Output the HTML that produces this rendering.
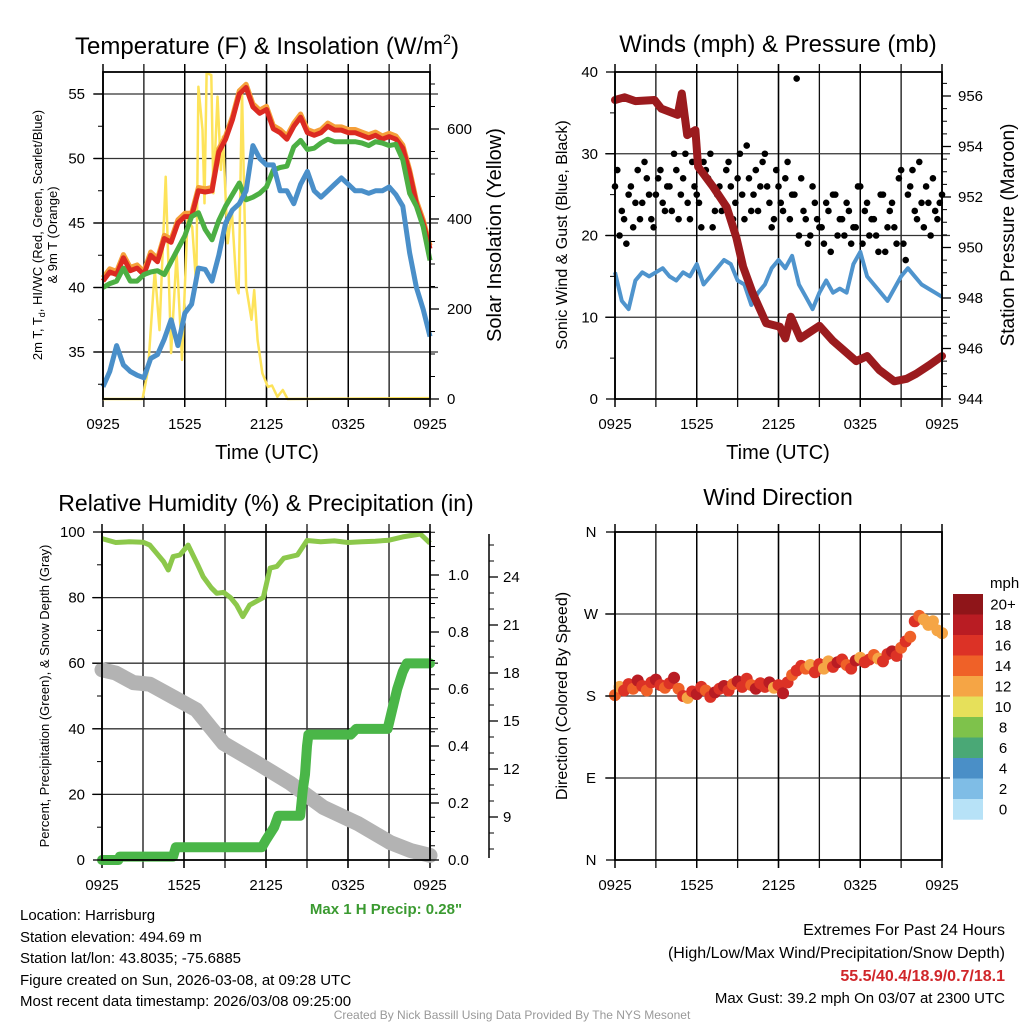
<!DOCTYPE html>
<html><head><meta charset="utf-8">
<style>
html,body{margin:0;padding:0;background:#fff;}
svg{display:block;font-family:"Liberation Sans",sans-serif;}
</style></head>
<body>
<svg id="root" width="1024" height="1024" viewBox="0 0 1024 1024" xmlns="http://www.w3.org/2000/svg">
<rect width="1024" height="1024" fill="#fff"/>
<text x="267" y="54" font-size="24" text-anchor="middle">Temperature (F) &amp; Insolation (W/m<tspan font-size="14" dy="-10">2</tspan><tspan dy="10">)</tspan></text>
<text x="778" y="52" font-size="24" text-anchor="middle">Winds (mph) &amp; Pressure (mb)</text>
<text x="266" y="511" font-size="23" text-anchor="middle">Relative Humidity (%) &amp; Precipitation (in)</text>
<text x="778" y="505" font-size="23" text-anchor="middle">Wind Direction</text>
<text x="267" y="459" font-size="20" text-anchor="middle">Time (UTC)</text>
<text x="778" y="459" font-size="20" text-anchor="middle">Time (UTC)</text>
<text transform="translate(42,235) rotate(-90)" font-size="13" text-anchor="middle">2m T, T<tspan font-size="9" dy="3">d</tspan><tspan dy="-3">, HI/WC (Red, Green, Scarlet/Blue)</tspan></text>
<text transform="translate(57,235) rotate(-90)" font-size="13" text-anchor="middle">&amp; 9m T (Orange)</text>
<text transform="translate(501,235) rotate(-90)" font-size="20" text-anchor="middle">Solar Insolation (Yellow)</text>
<text transform="translate(567,235) rotate(-90)" font-size="16" text-anchor="middle">Sonic Wind &amp; Gust (Blue, Black)</text>
<text transform="translate(1014,235) rotate(-90)" font-size="19" text-anchor="middle">Station Pressure (Maroon)</text>
<text transform="translate(49,696) rotate(-90)" font-size="13" text-anchor="middle">Percent, Precipitation (Green), &amp; Snow Depth (Gray)</text>
<text transform="translate(567,696) rotate(-90)" font-size="16" text-anchor="middle">Direction (Colored By Speed)</text>
<g font-size="15">
<text x="20" y="920">Location: Harrisburg</text>
<text x="20" y="942">Station elevation: 494.69 m</text>
<text x="20" y="963">Station lat/lon: 43.8035; -75.6885</text>
<text x="20" y="985">Figure created on Sun, 2026-03-08, at 09:28 UTC</text>
<text x="20" y="1006">Most recent data timestamp: 2026/03/08 09:25:00</text>
</g>
<text x="386" y="914" font-size="15" font-weight="bold" fill="#3a9a30" text-anchor="middle">Max 1 H Precip: 0.28"</text>
<g text-anchor="end">
<text x="1005" y="935" font-size="16">Extremes For Past 24 Hours</text>
<text x="1005" y="958" font-size="16">(High/Low/Max Wind/Precipitation/Snow Depth)</text>
<text x="1005" y="981" font-size="16" font-weight="bold" fill="#d0262a">55.5/40.4/18.9/0.7/18.1</text>
<text x="1005" y="1003" font-size="15">Max Gust: 39.2 mph On 03/07 at 2300 UTC</text>
</g>
<text x="512" y="1019" font-size="12" fill="#999" text-anchor="middle">Created By Nick Bassill Using Data Provided By The NYS Mesonet</text>
<g id="plots"></g>
</svg>
<script>
const tHours = Array.from({length:49},(_,i)=>i*0.5);
const temp2m = [40.5,41.2,41,42.3,41.3,41.5,41,42.5,42,43.8,43.5,45,45.5,45.5,47.5,47.4,47.5,50.5,51.5,53,55,55.5,54,53.5,53.8,52.3,52,51.5,52.5,53.2,52,51.8,52,52.5,52.2,52.2,52,52,51.8,51.6,51.8,51.5,51.7,51.5,50.8,48.9,46.5,45,43];
const tempGreen = [40,40.3,40.5,41.5,40.5,40.5,41,41.2,41.3,41,42,43,44,45.5,45.8,44.5,43.7,45.2,46.3,47.2,48.1,46.8,47,47.3,47.8,49.1,49.3,49.4,50.9,51.4,50.7,50.8,51.2,51.5,51.3,51.3,51.3,51.3,51.2,51,51.3,51.2,51,51.1,49.9,47.3,46.3,44.7,42.1];
const tempBlue = [32.3,33.5,35.5,34,33.5,33.2,33,34.5,34.8,36,37.5,35.5,38,38.7,41.5,41.4,40.5,42.5,45,46,46.5,47.5,51,50,49.5,49.5,47.5,47.5,46.5,48,49,47.5,47,47.5,48,48.5,48,47.5,47.5,47.3,47.5,47.5,47.8,47.2,46.3,42.7,40,38.3,36.2];
const temp9mOffset = 0.25;
const solarHours = [0,2.9,3.3,3.8,4.15,4.6,5,5.4,5.8,6.2,6.55,6.85,7.0,7.3,7.45,7.6,7.95,8.1,8.4,8.65,8.8,9.15,9.45,9.8,9.95,10.2,10.5,10.9,11.1,11.35,11.7,12.1,12.4,12.8,13.2,13.55,24];
const solarVals = [0,0,64,287,153,494,102,324,87,398,383,250,694,598,435,724,720,457,672,509,583,346,420,250,235,687,250,176,242,131,57,27,30,5,20,0,2];
const windSpeed = [15.5,12,11,14.5,15.5,15,15.5,16,15,14.5,15.5,15,16.5,14,15,16,17,16.5,14.5,14,11.5,13,14,16,17,16,17.5,14,12.5,11,13,14.5,13,13.5,13,16.5,18,15,14,13,12,13.5,15,16,15,14,13.5,13,12.5];
const gustA = [26,20,22,25,21,28,24,27,22,25,28,23,26,30,22,27,24,29,25,21,28,30,23,26,24,29,22,27,25,31,23,28,26,30,24,22,26,23,29,25,39.2,27,22,20,24,21,19,23,25,20,22,24,19,21,26,23,20,22,18,25,21,24,19,28,17,26,23,29,21,24,27,22,25];
const gustB = [28,23,19,26,24,22,29,25,21,27,24,26,23,28,25,30,22,26,24,29,27,21,25,23,28,26,24,30,22,27,25,23,29,26,21,28,24,27,22,25,20,23,19,26,22,21,24,18,25,22,20,23,21,26,19,24,22,20,25,18,23,21,27,19,25,28,22,24,26,20,23,24];
const pressHours = [0,0.7,1.5,2.9,3.4,4.6,4.9,5.3,5.9,6.1,7.2,8.2,8.9,9.4,10.1,11.1,12.1,12.5,12.9,13.6,15,16,17.7,18.5,19.4,20.5,21.4,22.1,23.1,24];
const pressVals = [955.84,955.95,955.8,955.84,955.5,955.25,956.1,954.45,954.65,953.2,952.4,951.6,950.4,949.24,948.2,947.0,946.86,946.4,947.26,946.4,946.9,946.3,945.5,945.7,945.15,944.7,944.8,945.0,945.35,945.7];
const rhHours = [0,1,2,3,3.5,4,4.5,4.85,5.2,5.7,6.3,7,7.4,8,8.4,8.9,9.4,9.85,10.3,10.8,11.8,12.3,12.8,13.3,14.3,15,16,17,18,19,20,21,22,23.3,24];
const rhVals = [98,96.8,97,96.9,96,93.5,91,88.4,92.5,93,96,90,86.4,83,81.3,81.6,80,77.7,74.2,77.7,80,89,89.5,92,93,97.4,97,97.3,96.8,97,97.2,97.5,98.5,99.4,96.6];
const precipHours = [0,1.2,1.3,5.2,5.4,11.7,12,12.6,12.9,14.5,14.7,14.85,15.0,15.1,18.2,18.6,20.9,21.2,21.6,22.0,22.3,24];
const precipVals = [0,0,0.012,0.012,0.045,0.045,0.07,0.115,0.155,0.155,0.25,0.3,0.4,0.44,0.44,0.46,0.46,0.52,0.6,0.66,0.69,0.69];
const snowHours = [0,1,2.3,3.5,5.2,6.9,8.9,11.3,13.8,16.2,18.7,21.1,22.6,24];
const snowVals = [18.2,18,17.4,17.3,16.5,15.7,13.6,12.4,11.1,9.6,8.6,7.4,6.9,6.6];
const dirVals = [181,190,186,193,188,197,191,186,195,198,192,189,194,200,188,180,178,185,182,190,186,179,184,188,191,186,193,196,190,199,192,188,194,190,195,189,192,183,195,203,208,213,210,214,206,215,210,218,212,217,220,214,210,219,222,217,220,225,221,218,226,229,224,233,240,245,262,268,264,258,262,252,249];
const dirSpeed = [15,13,16,17,14,18,16,15,17,19,16,14,17,18,15,16,13,17,18,16,15,17,18,16,19,17,15,18,16,17,14,18,17,16,19,13,17,18,16,15,17,16,14,13,16,17,12,13,16,18,17,14,16,18,13,17,16,15,12,17,16,18,17,15,16,14,16,15,13,12,13,12,13];
const xTickLabels = ['0925','1525','2125','0325','0925'];
const tempTicks = [35,40,45,50,55];
const solarTicks = [0,200,400,600];
const windTicks = [0,10,20,30,40];
const pressTicks = [944,946,948,950,952,954,956];
const rhTicks = [0,20,40,60,80,100];
const precipTicks = [0.0,0.2,0.4,0.6,0.8,1.0];
const snowTicks = [9,12,15,18,21,24];
const dirTicks = [0,90,180,270,360];
const dirLabels = ['N','E','S','W','N'];
const cbLabels = ['20+','18','16','14','12','10','8','6','4','2','0'];
const cbColors = ['#8f1519','#b91c23','#dc3226','#ef6128','#f5a545','#e6e05a','#7ec24b','#4aa876','#4a8fc7','#7fbde6','#b7e2f7'];

const NS='http://www.w3.org/2000/svg';
const root=document.getElementById('plots');
function mk(tag,attrs,parent){const e=document.createElementNS(NS,tag);for(const k in attrs)e.setAttribute(k,attrs[k]);(parent||root).appendChild(e);return e;}
function pathD(xs,ys,fx,fy){return xs.map((h,i)=>(i?'L':'M')+fx(h).toFixed(1)+','+fy(ys[i]).toFixed(1)).join('');}

const P1={x0:103,x1:430,y0:72,y1:399}, P2={x0:615,x1:942,y0:72,y1:399}, P3={x0:102,x1:430,y0:532,y1:860}, P4={x0:615,x1:942,y0:532,y1:860};
const xs=(P)=>h=>P.x0+h/24*(P.x1-P.x0);
const yTemp=t=>94+(55-t)*12.9, ySolar=s=>399-s*0.45;
const yWind=v=>399-v*8.175, yPress=p=>399-(p-944)*25.25;
const yRH=v=>860-v*3.28, yPrecip=v=>860-v*285, ySnow=v=>817-(v-9)*16;
const yDir=d=>860-d*328/360;

function gridFrame(P,hLines,name){
  for(let h=3;h<24;h+=3){
    const l=mk('line',{x1:xs(P)(h),x2:xs(P)(h),y1:P.y0-8,y2:P.y1+8,stroke:(h%6===0)?'#555':'#111','stroke-width':1.3});
    
    
  }
  hLines.forEach(y=>{
    const l=mk('line',{x1:P.x0-10,x2:P.x1+8,y1:y,y2:y,stroke:'#333','stroke-width':1.3});
    
    
  });
  xTickLabels.forEach((t,i)=>{
    const x=xs(P)(i*6);
    const tk=mk('line',{x1:x,x2:x,y1:P.y0-8,y2:P.y1+8,stroke:'#000','stroke-width':1.5});
    
    
    const tx=mk('text',{x:x,y:P.y1+30,'font-size':15,'text-anchor':'middle'});
    tx.textContent=t;
    
    
  });
}
function frame(P,name){
  const r=mk('rect',{x:P.x0,y:P.y0,width:P.x1-P.x0,height:P.y1-P.y0,fill:'none',stroke:'#000','stroke-width':1.8});
  
  
}
function yAxis(ticks,fy,x,side,fmt,name,labelX){
  ticks.forEach(v=>{
    const y=fy(v);
    const tk=mk('line',{x1:x,x2:x+(side==='left'?-9:9),y1:y,y2:y,stroke:'#000','stroke-width':1.3});
    
    
    const tx=mk('text',{x:labelX,y:y+5,'font-size':15,'text-anchor':side==='left'?'end':'start'});
    tx.textContent=fmt(v);
    
    
  });
}
function minor(fy,from,to,step,x,side,name){
  for(let v=from;v<=to+1e-9;v+=step){
    const y=fy(v);
    const tk=mk('line',{x1:x,x2:x+(side==='left'?-5:5),y1:y,y2:y,stroke:'#000','stroke-width':1});
    
    
  }
}

gridFrame(P1,tempTicks.map(yTemp),'temp');
const fx1=xs(P1);
let e;
e=mk('path',{d:pathD(solarHours,solarVals,fx1,ySolar),fill:'none',stroke:'#fde35a','stroke-width':2.5,'stroke-linejoin':'round'});


e=mk('path',{d:pathD(tHours,temp2m.map(v=>v+temp9mOffset),fx1,yTemp),fill:'none',stroke:'#f5a03a','stroke-width':5,'stroke-linejoin':'round'});


e=mk('path',{d:pathD(tHours,temp2m,fx1,yTemp),fill:'none',stroke:'#dc2a22','stroke-width':5,'stroke-linejoin':'round'});


e=mk('path',{d:pathD(tHours,tempGreen,fx1,yTemp),fill:'none',stroke:'#4caf43','stroke-width':5,'stroke-linejoin':'round'});


e=mk('path',{d:pathD(tHours,tempBlue,fx1,yTemp),fill:'none',stroke:'#4a8fc9','stroke-width':5,'stroke-linejoin':'round'});


frame(P1,'temp');
yAxis(tempTicks,yTemp,P1.x0,'left',v=>v,'temp-y',85);
minor(yTemp,32.5,55,2.5,P1.x0,'left','temp-y');
yAxis(solarTicks,ySolar,P1.x1,'right',v=>v,'solar-y',447);
minor(ySolar,0,700,50,P1.x1,'right','solar-y');

gridFrame(P2,[10,20,30].map(yWind),'wind');
const fx2=xs(P2);
e=mk('path',{d:pathD(tHours,windSpeed,fx2,yWind),fill:'none',stroke:'#4f94cd','stroke-width':4,'stroke-linejoin':'round'});


gustA.forEach((g,i)=>{
  const c=mk('circle',{cx:fx2(i/3),cy:yWind(g),r:3.3,fill:'#000'});
  
  
});
gustB.forEach((g,i)=>{
  const c=mk('circle',{cx:fx2(i/3+1/6),cy:yWind(g),r:3.3,fill:'#000'});
  
  
});
e=mk('path',{d:pathD(pressHours,pressVals,fx2,yPress),fill:'none',stroke:'#9b1b1e','stroke-width':8,'stroke-linejoin':'round','stroke-linecap':'round'});


frame(P2,'wind');
yAxis(windTicks,yWind,P2.x0,'left',v=>v,'wind-y',598);
minor(yWind,5,35,10,P2.x0,'left','wind-y');
yAxis(pressTicks,yPress,P2.x1,'right',v=>v,'pressure-y',958);
minor(yPress,944.5,956.5,0.5,P2.x1,'right','pressure-y');

gridFrame(P3,[20,40,60,80].map(yRH),'rh');
const fx3=xs(P3);
e=mk('path',{d:pathD(snowHours,snowVals,fx3,ySnow),fill:'none',stroke:'#b3b3b3','stroke-width':15,'stroke-linejoin':'round','stroke-linecap':'round'});


e=mk('path',{d:pathD(precipHours,precipVals,fx3,yPrecip),fill:'none',stroke:'#4ab648','stroke-width':10,'stroke-linejoin':'round','stroke-linecap':'round'});


e=mk('path',{d:pathD(rhHours,rhVals,fx3,yRH),fill:'none',stroke:'#8cc84b','stroke-width':5,'stroke-linejoin':'round'});


frame(P3,'rh');
yAxis(rhTicks,yRH,P3.x0,'left',v=>v,'rh-y',85);
minor(yRH,10,90,20,P3.x0,'left','rh-y');
yAxis(precipTicks,yPrecip,P3.x1,'right',v=>v.toFixed(1),'precip-y',448);
minor(yPrecip,0.05,1.15,0.05,P3.x1,'right','precip-y');
e=mk('line',{x1:489,x2:489,y1:534,y2:858,stroke:'#000','stroke-width':1.5});


yAxis(snowTicks,ySnow,489,'right',v=>v,'snow-y',503);
minor(ySnow,7,26,1,489,'right','snow-y');

gridFrame(P4,[90,180,270].map(yDir),'dir');
const fx4=xs(P4);
dirVals.forEach((d,i)=>{
  const bin=Math.min(10,Math.floor(dirSpeed[i]/2));
  const c=mk('circle',{cx:fx4(i/3),cy:yDir(d),r:6,fill:cbColors[10-bin]});
  
  
});
frame(P4,'dir');
dirTicks.forEach((v,i)=>{
  const y=yDir(v);
  const tk=mk('line',{x1:P4.x0,x2:P4.x0-9,y1:y,y2:y,stroke:'#000','stroke-width':1.3});
  
  
  const tx=mk('text',{x:591,y:y+5,'font-size':15,'text-anchor':'middle'});
  tx.textContent=dirLabels[i];
  
  
});
const cbT=mk('text',{x:990,y:588,'font-size':15});
cbT.textContent='mph';


cbColors.forEach((c,i)=>{
  const y=594+i*20.5;
  const r=mk('rect',{x:953,y:y,width:30,height:20.7,fill:c});
  
  
  const t=mk('text',{x:1003,y:y+15.5,'font-size':15,'text-anchor':'middle'});
  t.textContent=cbLabels[i];
  
  
});
</script>
</body></html>
